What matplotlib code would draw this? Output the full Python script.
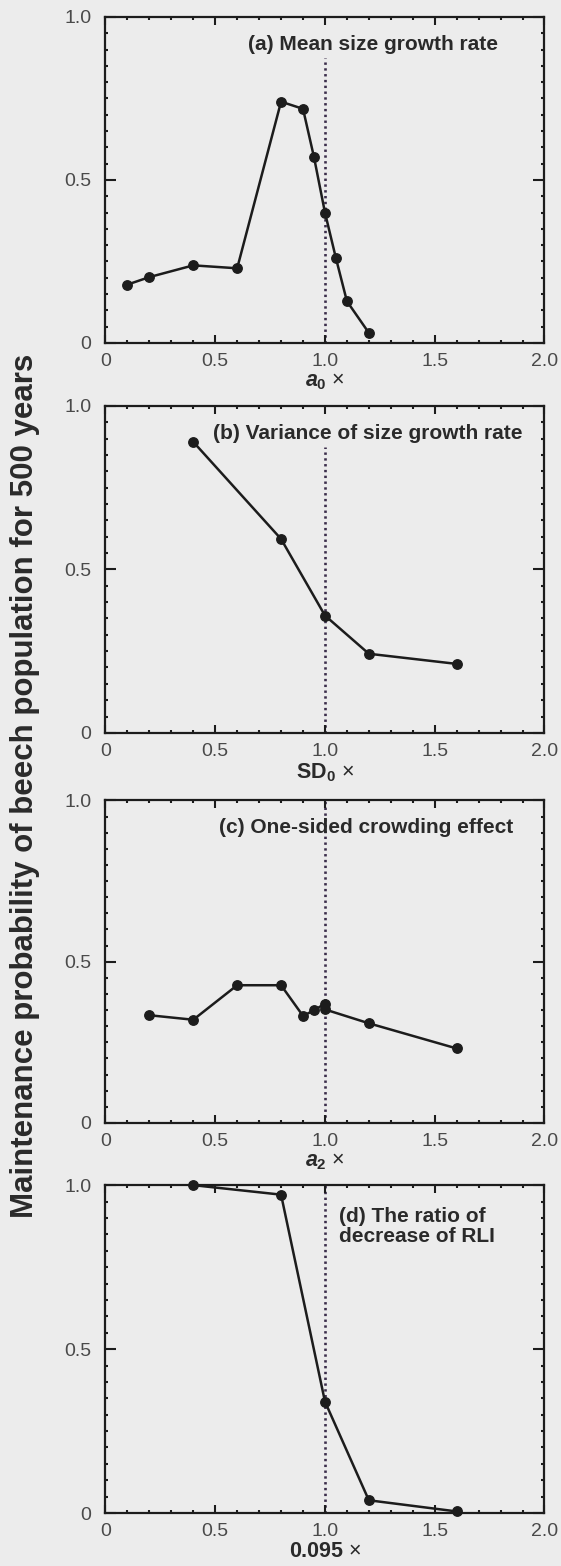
import numpy as np
import matplotlib.pyplot as plt
from matplotlib.ticker import MultipleLocator

plt.rcParams['font.family'] = ['Liberation Sans', 'DejaVu Sans']
plt.rcParams['mathtext.fontset'] = 'custom'
plt.rcParams['mathtext.it'] = 'Liberation Sans:italic:bold'
plt.rcParams['mathtext.rm'] = 'Liberation Sans:bold'
plt.rcParams['mathtext.bf'] = 'Liberation Sans:bold'

# (a) mean size growth rate
a_x = [0.1, 0.2, 0.4, 0.6, 0.8, 0.9, 0.95, 1.0, 1.05, 1.1, 1.2]
a_y = [0.179, 0.202, 0.238, 0.229, 0.740, 0.718, 0.570, 0.400, 0.260, 0.128, 0.031]

# (b) variance of size growth rate
b_x = [0.4, 0.8, 1.0, 1.2, 1.6]
b_y = [0.890, 0.593, 0.359, 0.242, 0.211]

# (c) one-sided crowding effect
c_x = [0.2, 0.4, 0.6, 0.8, 0.9, 0.95, 1.0, 1.0, 1.2, 1.6]
c_y = [0.334, 0.320, 0.427, 0.427, 0.332, 0.349, 0.370, 0.352, 0.309, 0.231]

# (d) ratio of decrease of RLI
d_x = [0.4, 0.8, 1.0, 1.2, 1.6]
d_y = [1.0, 0.971, 0.340, 0.039, 0.005]

titles = ['(a) Mean size growth rate', '(b) Variance of size growth rate',
          '(c) One-sided crowding effect', '(d) The ratio of\ndecrease of RLI']
xlabels = [r'$a_0$ ×', r'$\mathrm{SD}_0$ ×', r'$a_2$ ×', r'$\mathrm{0.095}$ ×']
ylabel = 'Maintenance probability of beech population for 500 years'

bg = '#ececec'
ink = '#1c1c1c'
grey = '#4a4a4a'

fig = plt.figure(figsize=(5.61, 15.66), dpi=100, facecolor=bg)

# panel boxes in figure fractions: bottom, height
boxes = [(0.781, 0.2082), (0.532, 0.2088), (0.2829, 0.2060), (0.0338, 0.2094)]
series = [(a_x, a_y), (b_x, b_y), (c_x, c_y), (d_x, d_y)]
vline_top = [0.875, 0.875, 1.0, 1.0]

for i, ((bot, h), (xs, ys)) in enumerate(zip(boxes, series)):
    ax = fig.add_axes([0.188, bot, 0.7825, h])
    ax.set_facecolor(bg)

    ax.plot([1.0, 1.0], [0, vline_top[i]], color='#3b2d4a', lw=1.9,
            ls=(0, (0.9, 1.3)), zorder=1)
    ax.plot(xs, ys, color=ink, lw=1.8, marker='o', ms=6.8, mfc=ink, mec=ink,
            clip_on=False, zorder=3)

    ax.set_xlim(0, 2.0)
    ax.set_ylim(0, 1.0)
    ax.set_xticks([0, 0.5, 1.0, 1.5, 2.0])
    ax.set_xticklabels(['0', '0.5', '1.0', '1.5', '2.0'])
    ax.set_yticks([0, 0.5, 1.0])
    ax.set_yticklabels(['0', '0.5', '1.0'])
    ax.xaxis.set_minor_locator(MultipleLocator(0.1))
    ax.yaxis.set_minor_locator(MultipleLocator(0.05))
    ax.tick_params(axis='x', which='major', direction='in', length=6, width=1.5,
                   top=True, bottom=True, labelsize=14, labelcolor=grey,
                   color=ink, pad=7)
    ax.tick_params(axis='y', which='major', direction='in', length=8, width=1.5,
                   left=True, right=True, labelsize=14, labelcolor=grey,
                   color=ink, pad=10)
    ax.tick_params(which='minor', direction='in', length=2.5, width=1.5,
                   top=True, bottom=True, left=True, right=True, color=ink)
    for sp in ax.spines.values():
        sp.set_linewidth(1.6)
        sp.set_color(ink)

    if i < 3:
        tx = [1.79, 1.898, 1.859][i]
        ax.text(tx, 0.90, titles[i], ha='right', va='baseline', fontsize=15,
                fontweight='bold', color='#2a2a2a', zorder=4)
    else:
        ax.text(1.063, 0.826, titles[i], ha='left', va='baseline', fontsize=15,
                fontweight='bold', color='#2a2a2a', linespacing=1.05, zorder=4)

    ax.set_xlabel(xlabels[i], fontsize=15.5, color='#2a2a2a', labelpad=1)

fig.text(0.0446, 0.498, ylabel, rotation=90, ha='center', va='center',
         fontsize=22.5, fontweight='bold', color='#2a2a2a')

fig.savefig('out.png', dpi=100, facecolor=bg)
